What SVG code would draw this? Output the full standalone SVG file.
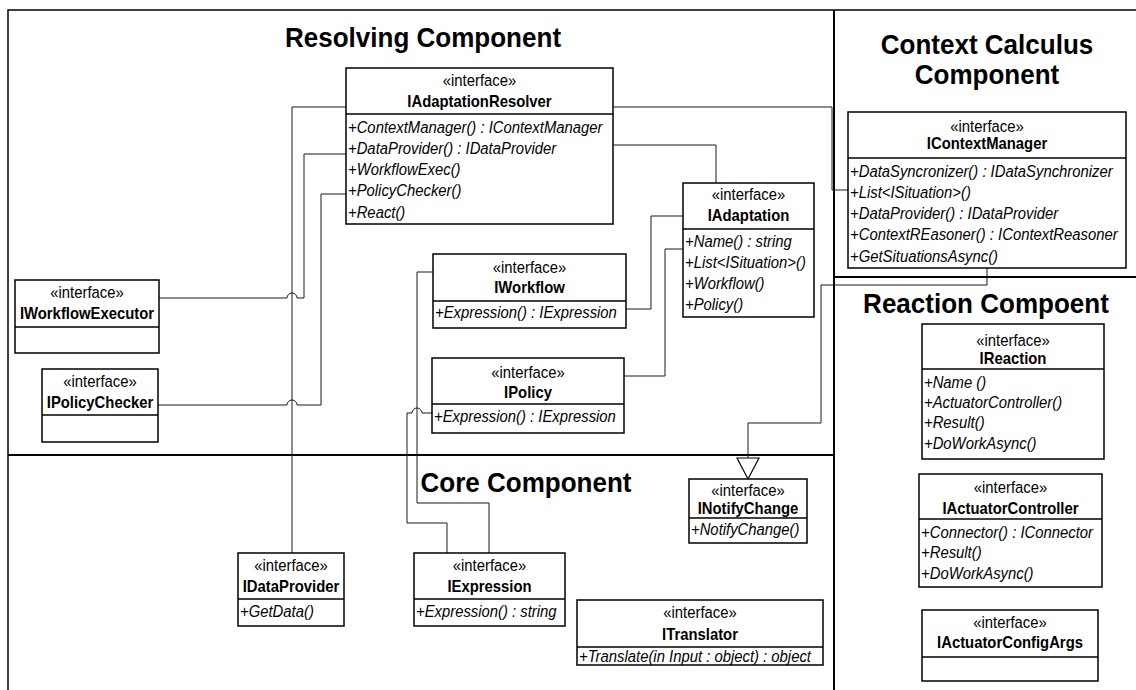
<svg xmlns="http://www.w3.org/2000/svg" width="1136" height="690" viewBox="0 0 1136 690">
  <style>
    .frame { fill: none; stroke: #000; stroke-width: 1.5; }
    .divider { fill: none; stroke: #000; stroke-width: 2; }
    text { font-family: "Liberation Sans", Arial, sans-serif; fill: #000; transform-box: fill-box; }
    .title { font-size: 28px; font-weight: bold; text-anchor: middle; transform: scaleX(0.93); transform-origin: center; }
    .box { fill: #fff; stroke: #000; stroke-width: 1.5; }
    .sep { stroke: #000; stroke-width: 1.5; }
    .stereo { font-size: 16.5px; text-anchor: middle; transform: scaleX(0.9); transform-origin: center; }
    .name { font-size: 16.5px; font-weight: bold; text-anchor: middle; transform: scaleX(0.9); transform-origin: center; }
    .op { font-size: 16.5px; font-style: italic; transform: scaleX(0.9); transform-origin: left center; }
    .conn { fill: none; stroke: #1a1a1a; stroke-width: 1; }
    .head { fill: #fff; stroke: #000; stroke-width: 1.2; }
  </style>

  <rect width="1136" height="690" fill="#fff"/>

  <!-- component partitions -->
  <g id="partitions">
    <path class="frame" d="M8,690 V10 H1136"/>
    <path class="divider" d="M834,10 V690"/>
    <path class="divider" d="M8,455 H834"/>
    <path class="divider" d="M834,277 H1136"/>
    <text class="title" x="423" y="47">Resolving Component</text>
    <text class="title" x="987" y="54">Context Calculus</text>
    <text class="title" x="987" y="84">Component</text>
    <text class="title" x="986" y="313">Reaction Compoent</text>
    <text class="title" x="526" y="492">Core Component</text>
  </g>

  <!-- connectors -->
  <g id="connectors">
    <path class="conn" d="M613,107 H832 V190 H848"/>
    <path class="conn" d="M613,145 H716 V183"/>
    <path class="conn" d="M626,309 H651 V216 H683"/>
    <path class="conn" d="M624,376 H665 V249 H683"/>
    <path class="conn" d="M346,107 H292 V553"/>
    <path class="conn" d="M346,154 H304 V298 H297 A5,5 0 0 0 287,298 H159"/>
    <path class="conn" d="M346,194 H321 V405 H297 A5,5 0 0 0 287,405 H158"/>
    <path class="conn" d="M433,272 H417 V503 H489 V553"/>
    <path class="conn" d="M432,413 H422 A5,5 0 0 0 412,413 H407 V523 H447 V553"/>
    <path class="conn" d="M987,268 V285 H821 V423 H748 V458"/>
    <polygon class="head" points="737,458 759,458 748,479"/>
  </g>

  <g id="IAdaptationResolver">
    <rect class="box" x="346" y="68" width="267" height="156"/>
    <line class="sep" x1="346" y1="114" x2="613" y2="114"/>
    <text class="stereo" x="479.5" y="86">«interface»</text>
    <text class="name" x="479.5" y="107">IAdaptationResolver</text>
    <text class="op" x="348" y="133">+ContextManager() : IContextManager</text>
    <text class="op" x="348" y="154">+DataProvider() : IDataProvider</text>
    <text class="op" x="348" y="175">+WorkflowExec()</text>
    <text class="op" x="348" y="196">+PolicyChecker()</text>
    <text class="op" x="348" y="218">+React()</text>
  </g>

  <g id="IContextManager">
    <rect class="box" x="848" y="112" width="278" height="156"/>
    <line class="sep" x1="848" y1="158" x2="1126" y2="158"/>
    <text class="stereo" x="987" y="132">«interface»</text>
    <text class="name" x="987" y="149">IContextManager</text>
    <text class="op" x="850" y="177">+DataSyncronizer() : IDataSynchronizer</text>
    <text class="op" x="850" y="198">+List&lt;ISituation&gt;()</text>
    <text class="op" x="850" y="219">+DataProvider() : IDataProvider</text>
    <text class="op" x="850" y="240">+ContextREasoner() : IContextReasoner</text>
    <text class="op" x="850" y="262">+GetSituationsAsync()</text>
  </g>

  <g id="IAdaptation">
    <rect class="box" x="683" y="183" width="131" height="134"/>
    <line class="sep" x1="683" y1="229" x2="814" y2="229"/>
    <text class="stereo" x="748.5" y="200">«interface»</text>
    <text class="name" x="748.5" y="221">IAdaptation</text>
    <text class="op" x="685" y="247">+Name() : string</text>
    <text class="op" x="685" y="268">+List&lt;ISituation&gt;()</text>
    <text class="op" x="685" y="289">+Workflow()</text>
    <text class="op" x="685" y="310">+Policy()</text>
  </g>

  <g id="IWorkflow">
    <rect class="box" x="433" y="254" width="193" height="74"/>
    <line class="sep" x1="433" y1="301" x2="626" y2="301"/>
    <text class="stereo" x="529.5" y="273">«interface»</text>
    <text class="name" x="529.5" y="293">IWorkflow</text>
    <text class="op" x="435" y="318">+Expression() : IExpression</text>
  </g>

  <g id="IPolicy">
    <rect class="box" x="432" y="358" width="192" height="75"/>
    <line class="sep" x1="432" y1="404" x2="624" y2="404"/>
    <text class="stereo" x="528" y="378">«interface»</text>
    <text class="name" x="528" y="398">IPolicy</text>
    <text class="op" x="434" y="422">+Expression() : IExpression</text>
  </g>

  <g id="IWorkflowExecutor">
    <rect class="box" x="15" y="280" width="144" height="73"/>
    <line class="sep" x1="15" y1="327" x2="159" y2="327"/>
    <text class="stereo" x="87" y="298">«interface»</text>
    <text class="name" x="87" y="319">IWorkflowExecutor</text>
  </g>

  <g id="IPolicyChecker">
    <rect class="box" x="42" y="369" width="116" height="73"/>
    <line class="sep" x1="42" y1="415" x2="158" y2="415"/>
    <text class="stereo" x="100" y="387">«interface»</text>
    <text class="name" x="100" y="408">IPolicyChecker</text>
  </g>

  <g id="IDataProvider">
    <rect class="box" x="238" y="553" width="106" height="73"/>
    <line class="sep" x1="238" y1="599" x2="344" y2="599"/>
    <text class="stereo" x="291" y="571">«interface»</text>
    <text class="name" x="291" y="592">IDataProvider</text>
    <text class="op" x="240" y="617">+GetData()</text>
  </g>

  <g id="IExpression">
    <rect class="box" x="414" y="553" width="151" height="73"/>
    <line class="sep" x1="414" y1="599" x2="565" y2="599"/>
    <text class="stereo" x="489.5" y="571">«interface»</text>
    <text class="name" x="489.5" y="592">IExpression</text>
    <text class="op" x="416" y="617">+Expression() : string</text>
  </g>

  <g id="INotifyChange">
    <rect class="box" x="689" y="479" width="118" height="64"/>
    <line class="sep" x1="689" y1="518" x2="807" y2="518"/>
    <text class="stereo" x="748" y="496">«interface»</text>
    <text class="name" x="748" y="514">INotifyChange</text>
    <text class="op" x="691" y="535">+NotifyChange()</text>
  </g>

  <g id="ITranslator">
    <rect class="box" x="577" y="600" width="246" height="65"/>
    <line class="sep" x1="577" y1="647" x2="823" y2="647"/>
    <text class="stereo" x="700" y="618">«interface»</text>
    <text class="name" x="700" y="640">ITranslator</text>
    <text class="op" x="579" y="662">+Translate(in Input : object) : object</text>
  </g>

  <g id="IReaction">
    <rect class="box" x="922" y="324" width="182" height="135"/>
    <line class="sep" x1="922" y1="369" x2="1104" y2="369"/>
    <text class="stereo" x="1013" y="346">«interface»</text>
    <text class="name" x="1013" y="364">IReaction</text>
    <text class="op" x="924" y="388">+Name ()</text>
    <text class="op" x="924" y="408">+ActuatorController()</text>
    <text class="op" x="924" y="428">+Result()</text>
    <text class="op" x="924" y="449">+DoWorkAsync()</text>
  </g>

  <g id="IActuatorController">
    <rect class="box" x="919" y="474" width="183" height="113"/>
    <line class="sep" x1="919" y1="519" x2="1102" y2="519"/>
    <text class="stereo" x="1010.5" y="493">«interface»</text>
    <text class="name" x="1010.5" y="514">IActuatorController</text>
    <text class="op" x="921" y="538">+Connector() : IConnector</text>
    <text class="op" x="921" y="558">+Result()</text>
    <text class="op" x="921" y="579">+DoWorkAsync()</text>
  </g>

  <g id="IActuatorConfigArgs">
    <rect class="box" x="922" y="610" width="176" height="71"/>
    <line class="sep" x1="922" y1="657" x2="1098" y2="657"/>
    <text class="stereo" x="1010" y="628">«interface»</text>
    <text class="name" x="1010" y="648">IActuatorConfigArgs</text>
  </g>
</svg>
